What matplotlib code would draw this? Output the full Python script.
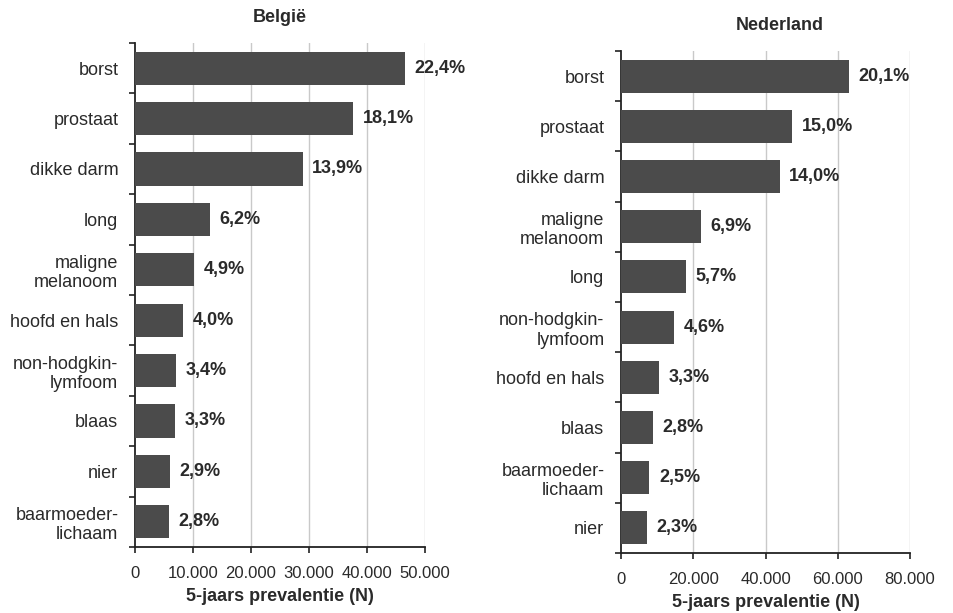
import matplotlib.pyplot as plt
import numpy as np

plt.rcParams["font.family"] = ["Liberation Sans", "DejaVu Sans"]

# België
be_labels = ["borst", "prostaat", "dikke darm", "long", "maligne\nmelanoom",
             "hoofd en hals", "non-hodgkin-\nlymfoom", "blaas", "nier",
             "baarmoeder-\nlichaam"]
be_values = [46500, 37600, 28900, 12900, 10200, 8300, 7100, 6850, 6000, 5800]
be_pct = ["22,4%", "18,1%", "13,9%", "6,2%", "4,9%", "4,0%", "3,4%", "3,3%", "2,9%", "2,8%"]

# Nederland
nl_labels = ["borst", "prostaat", "dikke darm", "maligne\nmelanoom", "long",
             "non-hodgkin-\nlymfoom", "hoofd en hals", "blaas",
             "baarmoeder-\nlichaam", "nier"]
nl_values = [63000, 47300, 43900, 22000, 18000, 14600, 10500, 8800, 7800, 7100]
nl_pct = ["20,1%", "15,0%", "14,0%", "6,9%", "5,7%", "4,6%", "3,3%", "2,8%", "2,5%", "2,3%"]

bar_color = "#4b4b4b"
grid_color = "#c9c9c9"
text_color = "#2a2a2a"


def fmt_thousands(v):
    return "0" if v == 0 else f"{int(v):,}".replace(",", ".")


def draw_panel(ax, labels, values, pct, xmax, step):
    n = len(labels)
    y = np.arange(n)
    ax.barh(y, values, height=0.66, color=bar_color, zorder=3)
    ax.set_ylim(n - 0.5, -0.5)
    ax.set_xlim(0, xmax)
    ticks = np.arange(0, xmax + 1, step)
    ax.set_xticks(ticks)
    ax.set_xticklabels([fmt_thousands(t) for t in ticks], fontsize=12, color=text_color)
    ax.set_yticks(y)
    ax.set_yticklabels(labels, fontsize=13, color=text_color, ha="right")
    ax.tick_params(axis="y", length=0, pad=12)
    ax.set_yticks(np.arange(-0.5, n, 1), minor=True)
    ax.tick_params(axis="y", which="minor", length=4, width=1.2, color="#222222")
    ax.tick_params(axis="x", length=4, width=1.2, color="#222222", pad=10)
    for x in ticks[1:]:
        ax.axvline(x, color=grid_color, lw=1, zorder=1)
    for s in ["top", "right"]:
        ax.spines[s].set_visible(False)
    for s in ["left", "bottom"]:
        ax.spines[s].set_linewidth(1.3)
        ax.spines[s].set_color("#222222")
    for yi, v, p in zip(y, values, pct):
        ax.annotate(p, (v, yi), xytext=(7, 0), textcoords="offset points",
                    va="center", ha="left", fontsize=13, fontweight="bold",
                    color=text_color)
    ax.set_xlabel("5-jaars prevalentie (N)", fontsize=13, fontweight="bold",
                  color=text_color, labelpad=5)


fig = plt.figure(figsize=(9.54, 6.13), dpi=100)
ax1 = fig.add_axes([0.1415, 0.1077, 0.304, 0.8222])
ax2 = fig.add_axes([0.651, 0.0979, 0.3029, 0.8189])

draw_panel(ax1, be_labels, be_values, be_pct, 50000, 10000)
draw_panel(ax2, nl_labels, nl_values, nl_pct, 80000, 20000)

fig.text(0.2935, 0.972, "België", ha="center", va="center", fontsize=13,
         fontweight="bold", color=text_color)
fig.text(0.8176, 0.959, "Nederland", ha="center", va="center", fontsize=13,
         fontweight="bold", color=text_color)

fig.savefig("out.png", dpi=100)
